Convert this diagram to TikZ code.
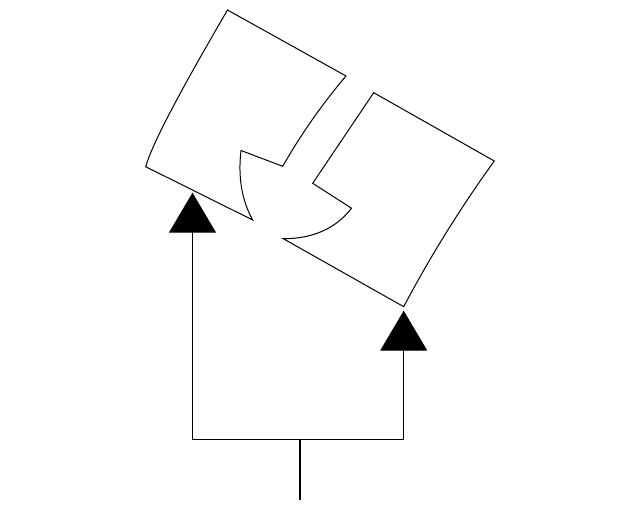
\documentclass[tikz,border=0pt]{standalone}
\usetikzlibrary{arrows.meta}
\begin{document}
\begin{tikzpicture}[x=1pt,y=-1pt,
  edge/.style={line width=1pt, line join=miter},
  feed/.style={line width=1.3pt, -{Triangle[length=40pt,width=47pt]}}]
\useasboundingbox (0,0) rectangle (640,511);
% left piece
\coordinate (La) at (227.5,10);
\coordinate (Lb) at (346,76);
\coordinate (Lc) at (282.7,166.3);
\coordinate (Ld) at (241,150.5);
\coordinate (Le) at (252.7,220);
\coordinate (Lf) at (145.7,166.7);
\draw[edge] (La) -- (Lb) .. controls (322.1,104.2) and (301,134.3) .. (Lc) -- (Ld)
  .. controls (237.9,177.4) and (241.8,200.5) .. (Le) -- (Lf)
  .. controls (151.9,144.5) and (179.2,92.7) .. cycle;
% right piece
\coordinate (Ra) at (373.7,92.7);
\coordinate (Rb) at (494.3,161);
\coordinate (Rc) at (403.7,306.7);
\coordinate (Rd) at (283.3,238.7);
\coordinate (Re) at (351.5,208.2);
\coordinate (Rf) at (312.7,183.3);
\draw[edge] (Ra) -- (Rb) .. controls (460.7,207.5) and (430.5,256) .. (Rc) -- (Rd)
  .. controls (313.1,238.7) and (335.8,228.5) .. (Re) -- (Rf) -- cycle;
% feed lines
\coordinate (stem) at (300,500);
\coordinate (jn) at (300,439.7);
\coordinate (lapex) at (192.5,192.7);
\coordinate (rapex) at (403.7,310.7);
\draw[line width=1.3pt] (stem) -- (jn);
\draw[feed] (jn) -| (lapex);
\draw[feed] (jn) -| (rapex);
\end{tikzpicture}
\end{document}
